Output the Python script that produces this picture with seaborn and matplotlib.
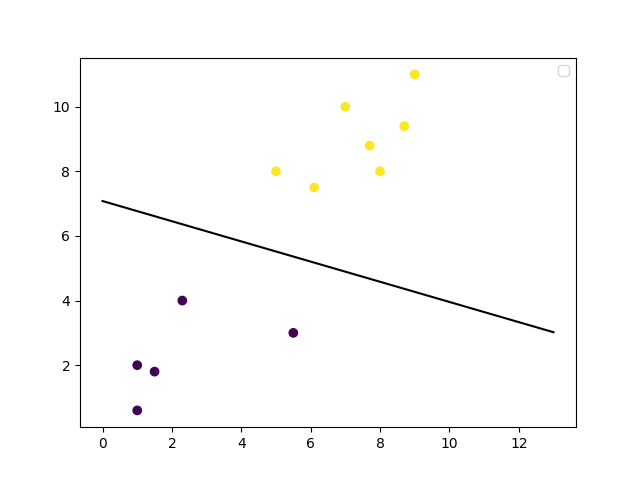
import numpy as np
import pandas as pd
import seaborn as sns
import matplotlib
matplotlib.use('Agg')
import matplotlib.pyplot as plt
import warnings
warnings.filterwarnings('ignore')

# points and their classes
xs = [1, 5, 1.5, 8, 1, 9, 7, 8.7, 2.3, 5.5, 7.7, 6.1]
ys = [2, 8, 1.8, 8, 0.6, 11, 10, 9.4, 4, 3, 8.8, 7.5]
labels = [0, 1, 0, 1, 0, 1, 1, 1, 0, 0, 1, 1]

# separating line
line_x = [0, 13]
line_y = [7.08, 3.02]

df = pd.DataFrame({"x": xs, "y": ys, "label": labels})

fig, ax = plt.subplots(figsize=(6.4, 4.8), dpi=100)
sns.lineplot(x=line_x, y=line_y, color="black", ax=ax)
sns.scatterplot(data=df, x="x", y="y", hue="label",
                palette=["#440154", "#fde725"], s=36, linewidth=1,
                edgecolor="face", legend=False, ax=ax)
ax.set_xlabel("")
ax.set_ylabel("")
ax.legend()
plt.savefig("out.png")
